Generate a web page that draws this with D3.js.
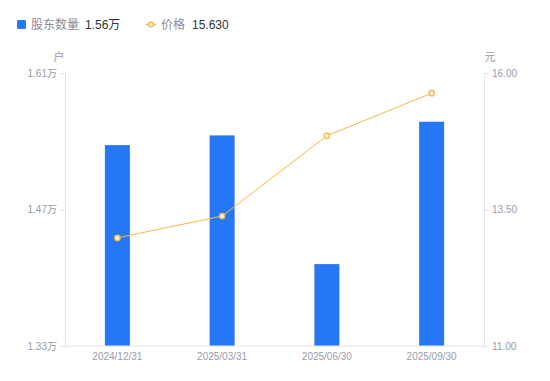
<!DOCTYPE html>
<html>
<head>
<meta charset="utf-8">
<script src="https://cdn.jsdelivr.net/npm/d3@7"></script>
<style>
  body { margin: 0; background: #fff; }
  text { font-family: "Liberation Sans", "Noto Sans CJK SC", sans-serif; }
</style>
</head>
<body>
<div id="chart"></div>
<script>
// data
const dates = ["2024/12/31", "2025/03/31", "2025/06/30", "2025/09/30"];
const holders = [1.536, 1.546, 1.414, 1.56];   // 万户
const prices = [12.98, 13.38, 14.85, 15.63];    // 元
const leftTicks = [1.33, 1.47, 1.61];
const rightTicks = [11.0, 13.5, 16.0];

const W = 550, H = 381;
const m = { left: 65, right: 66, top: 73, bottom: 35 };

const svg = d3.select("#chart").append("svg")
    .attr("width", W)
    .attr("height", H);

const x = d3.scaleBand().domain(dates).range([m.left, W - m.right]);
const yL = d3.scaleLinear().domain([1.33, 1.61]).range([H - m.bottom, m.top]);
const yR = d3.scaleLinear().domain([11, 16]).range([H - m.bottom, m.top]);

const gridColor = "#e3e3e8", labelColor = "#9a9bab";

// bars
const bw = 25;
svg.append("g")
    .selectAll("rect")
    .data(holders)
    .join("rect")
    .attr("x", (d, i) => x(dates[i]) + x.bandwidth() / 2 - bw / 2)
    .attr("y", d => yL(d))
    .attr("width", bw)
    .attr("height", d => yL(1.33) - yL(d))
    .attr("fill", "#2577f6");

// axes
const axisL = svg.append("g")
    .attr("transform", `translate(${m.left},0)`)
    .call(d3.axisLeft(yL).tickValues(leftTicks).tickSize(5).tickPadding(3)
        .tickFormat(d => d3.format(".2f")(d) + "万"));
const axisR = svg.append("g")
    .attr("transform", `translate(${W - m.right},0)`)
    .call(d3.axisRight(yR).tickValues(rightTicks).tickSize(5).tickPadding(3)
        .tickFormat(d3.format(".2f")));
const axisB = svg.append("g")
    .attr("transform", `translate(0,${H - m.bottom})`)
    .call(d3.axisBottom(x).tickSize(0).tickPadding(7));

[axisL, axisR, axisB].forEach(g => {
    g.select(".domain").attr("stroke", gridColor);
    g.selectAll(".tick line").attr("stroke", gridColor);
    g.selectAll(".tick text").attr("fill", labelColor).style("font-size", "10px");
});
axisB.select(".domain").attr("d", `M${m.left},0H${W - m.right}`);

// unit labels
svg.append("text").attr("x", m.left - 6).attr("y", 61)
    .attr("text-anchor", "middle").attr("fill", labelColor)
    .style("font-size", "11px").text("户");
svg.append("text").attr("x", W - m.right + 6).attr("y", 61)
    .attr("text-anchor", "middle").attr("fill", labelColor)
    .style("font-size", "11px").text("元");

// price line
const cx = (d, i) => x(dates[i]) + x.bandwidth() / 2;
svg.append("path")
    .datum(prices)
    .attr("fill", "none")
    .attr("stroke", "#f9b645")
    .attr("stroke-width", 1)
    .attr("d", d3.line().x(cx).y(d => yR(d)));
svg.append("g")
    .selectAll("circle")
    .data(prices)
    .join("circle")
    .attr("cx", cx)
    .attr("cy", d => yR(d))
    .attr("r", 2.6)
    .attr("fill", "#fff")
    .attr("stroke", "#f9b645")
    .attr("stroke-width", 1.5);

// legend
const lg = svg.append("g").style("font-size", "12px");
lg.append("rect").attr("x", 17).attr("y", 20).attr("width", 9).attr("height", 9)
    .attr("rx", 1.5).attr("fill", "#2577f6");
lg.append("text").attr("x", 31).attr("y", 29).attr("fill", "#8a8b9a").text("股东数量");
lg.append("text").attr("x", 85).attr("y", 29).attr("fill", "#333").text(d3.format(".2f")(holders[3]) + "万");
lg.append("line").attr("x1", 146).attr("x2", 156).attr("y1", 24.5).attr("y2", 24.5)
    .attr("stroke", "#f9b645").attr("stroke-width", 1.5);
lg.append("circle").attr("cx", 151).attr("cy", 24.5).attr("r", 2.3)
    .attr("fill", "#fff").attr("stroke", "#f9b645").attr("stroke-width", 1.5);
lg.append("text").attr("x", 161).attr("y", 29).attr("fill", "#8a8b9a").text("价格");
lg.append("text").attr("x", 192).attr("y", 29).attr("fill", "#333").text(d3.format(".3f")(prices[3]));
</script>
</body>
</html>
